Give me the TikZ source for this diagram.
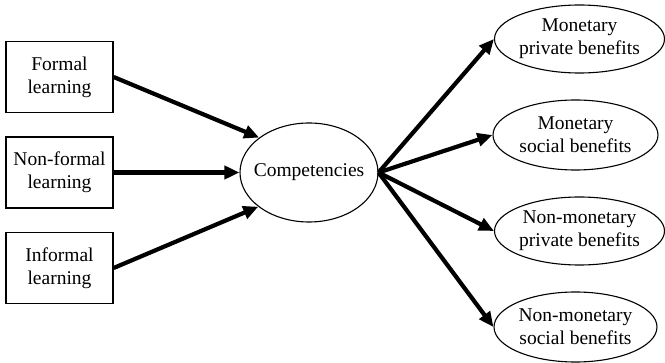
\documentclass[tikz,border=0pt]{standalone}
\usepackage{fontspec}
\setmainfont{Liberation Serif}
\usetikzlibrary{shapes.geometric,arrows.meta}
\tikzset{
  srcbox/.style={draw, line width=1.3pt, minimum width=107pt, minimum height=71pt, inner sep=0pt, align=center, font=\fontsize{19.5pt}{23pt}\selectfont},
  oval/.style={draw, ellipse, line width=1.1pt, inner xsep=-3pt, inner ysep=0pt, align=center, font=\fontsize{19.5pt}{23pt}\selectfont},
  flow/.style={line width=4.2pt, -{Triangle[length=15pt,width=13pt]}}
}
\begin{document}
\begin{tikzpicture}[x=1pt,y=-1pt]
\useasboundingbox (0,0) rectangle (665,363);
\node[srcbox] (f) at (59.5,77) {Formal\\learning};
\node[srcbox] (nf) at (59.5,172.5) {Non-formal\\learning};
\node[srcbox] (inf) at (59.5,268) {Informal\\learning};
\node[oval, inner xsep=-8pt, minimum width=138pt, minimum height=99pt] (c) at (309,172.5) {Competencies};
\node[oval, minimum width=170pt, minimum height=68pt] (b1) at (579.5,39) {Monetary\\private benefits};
\node[oval, minimum width=165pt, minimum height=70pt] (b2) at (575.5,135) {Monetary\\social benefits};
\node[oval, minimum width=170pt, minimum height=68pt] (b3) at (579.5,231) {Non-monetary\\private benefits};
\node[oval, minimum width=163pt, minimum height=70pt] (b4) at (575.5,327) {Non-monetary\\social benefits};
\draw[flow] (f.east) -- (c.145);
\draw[flow] (nf.east) -- (c.west);
\draw[flow] (inf.east) -- (c.214);
\draw[flow] (c.east) -- (b1.west);
\draw[flow] (c.east) -- (b2.west);
\draw[flow] (c.east) -- (b3.west);
\draw[flow] (c.east) -- (b4.west);
\end{tikzpicture}
\end{document}
